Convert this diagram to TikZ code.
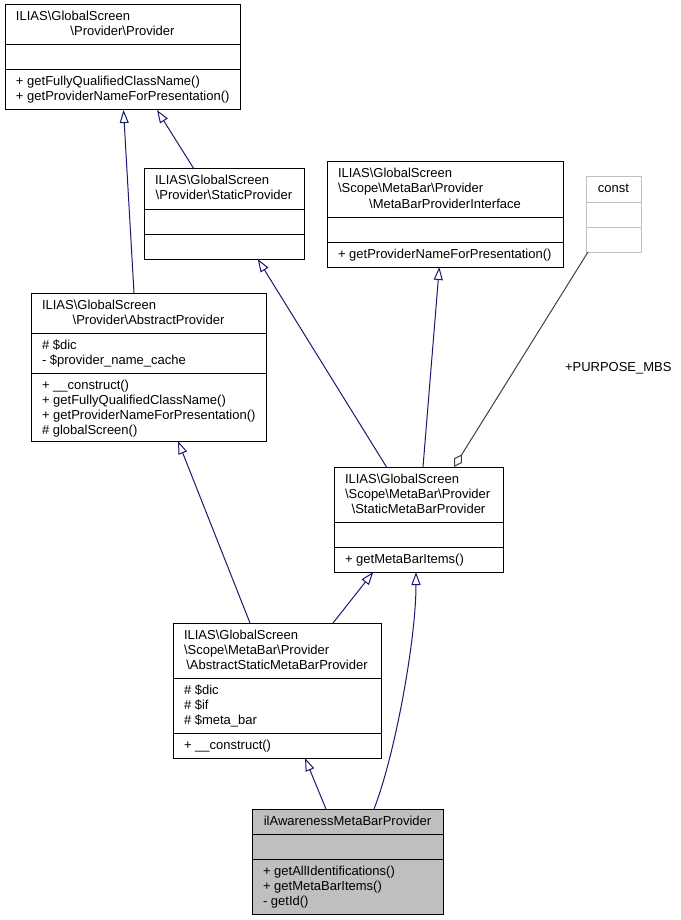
\documentclass[tikz,border=0pt]{standalone}
\usepackage{fontspec}
\setmainfont{Liberation Sans}
\usetikzlibrary{arrows.meta}
\definecolor{navy}{RGB}{25,25,112}
\definecolor{aggc}{RGB}{64,64,64}
\definecolor{hl}{RGB}{191,191,191}
\definecolor{constc}{RGB}{191,191,191}
\newcommand{\fs}{\fontsize{13pt}{15pt}\selectfont}
\newcommand{\bs}{\textbackslash}
\begin{document}
\begin{tikzpicture}[x=1pt,y=-1pt,
  cls/.style={draw=black, line width=1pt, fill=white, inner sep=0pt, outer sep=0pt},
  hlcls/.style={cls, fill=hl},
  gcls/.style={cls, draw=constc},
  div/.style={draw=black, line width=1pt},
  gdiv/.style={draw=constc, line width=1pt},
  lt/.style={anchor=base west, inner sep=0pt, outer sep=0pt, font=\fs},
  ct/.style={anchor=base, inner sep=0pt, outer sep=0pt, font=\fs},
  inh/.style={draw=navy, line width=1pt, -{Triangle[open, length=13pt, width=9pt]}},
  agg/.style={draw=aggc, line width=1pt, {Diamond[open, length=15pt, width=9pt]}-}]
\useasboundingbox (0,0) rectangle (680,920);
% boxes
\node[cls, minimum width=235pt, minimum height=105pt] (A) at (122.5,57.5) {};
\node[cls, minimum width=160pt, minimum height=90pt] (B) at (224,214) {};
\node[cls, minimum width=236pt, minimum height=105pt] (C) at (445,214.5) {};
\node[gcls, minimum width=55pt, minimum height=75pt] (K) at (613.5,214.5) {};
\node[cls, minimum width=235pt, minimum height=148pt] (D) at (148.5,367) {};
\node[cls, minimum width=169pt, minimum height=105pt] (E) at (418.5,519.5) {};
\node[cls, minimum width=208pt, minimum height=135pt] (F) at (277,690.5) {};
\node[hlcls, minimum width=191pt, minimum height=105pt] (G) at (347.5,861.5) {};
% dividers
\draw[div] (5,45) -- (240,45); \draw[div] (5,70) -- (240,70);
\draw[div] (144,209) -- (304,209); \draw[div] (144,234) -- (304,234);
\draw[div] (327,217) -- (563,217); \draw[div] (327,242) -- (563,242);
\draw[gdiv] (586,202) -- (641,202); \draw[gdiv] (586,227) -- (641,227);
\draw[div] (31,333) -- (266,333); \draw[div] (31,373) -- (266,373);
\draw[div] (334,522) -- (503,522); \draw[div] (334,547) -- (503,547);
\draw[div] (173,678) -- (381,678); \draw[div] (173,733) -- (381,733);
\draw[div] (252,834) -- (443,834); \draw[div] (252,859) -- (443,859);
% texts A
\node[lt] (A1) at (16,21) {ILIAS\bs GlobalScreen};
\node[ct] (A2) at (122.5,36) {\bs Provider\bs Provider};
\node[lt] (A3) at (16,86) {+ getFullyQualifiedClassName()};
\node[lt] (A4) at (16,101) {+ getProviderNameForPresentation()};
% B
\node[lt] (B1) at (155,185) {ILIAS\bs GlobalScreen};
\node[ct] (B2) at (224,200) {\bs Provider\bs StaticProvider};
% C
\node[lt] (C1) at (338,178) {ILIAS\bs GlobalScreen};
\node[lt] (C2) at (338,193) {\bs Scope\bs MetaBar\bs Provider};
\node[ct] (C3) at (445,208) {\bs MetaBarProviderInterface};
\node[lt] (C4) at (338,258) {+ getProviderNameForPresentation()};
% const
\node[ct] (K1) at (613.5,193) {const};
% D
\node[lt] (D1) at (42,309) {ILIAS\bs GlobalScreen};
\node[ct] (D2) at (148.5,324) {\bs Provider\bs AbstractProvider};
\node[lt] (D3) at (42,349) {\# \$dic};
\node[lt] (D4) at (42,364) {- \$provider\_name\_cache};
\node[lt] (D5) at (42,389) {+ \_\_construct()};
\node[lt] (D6) at (42,404) {+ getFullyQualifiedClassName()};
\node[lt] (D7) at (42,419) {+ getProviderNameForPresentation()};
\node[lt] (D8) at (42,434) {\# globalScreen()};
% E
\node[lt] (E1) at (345,483) {ILIAS\bs GlobalScreen};
\node[lt] (E2) at (345,498) {\bs Scope\bs MetaBar\bs Provider};
\node[ct] (E3) at (418.5,513) {\bs StaticMetaBarProvider};
\node[lt] (E4) at (345,563) {+ getMetaBarItems()};
% F
\node[lt] (F1) at (184,639) {ILIAS\bs GlobalScreen};
\node[lt] (F2) at (184,654) {\bs Scope\bs MetaBar\bs Provider};
\node[ct] (F3) at (277,669) {\bs AbstractStaticMetaBarProvider};
\node[lt] (F4) at (184,694) {\# \$dic};
\node[lt] (F5) at (184,709) {\# \$if};
\node[lt] (F6) at (184,724) {\# \$meta\_bar};
\node[lt] (F7) at (184,749) {+ \_\_construct()};
% G
\node[ct] (G1) at (347.5,825) {ilAwarenessMetaBarProvider};
\node[lt] (G2) at (263,875) {+ getAllIdentifications()};
\node[lt] (G3) at (263,890) {+ getMetaBarItems()};
\node[lt] (G4) at (263,905) {- getId()};
% label
\node[lt] (L) at (565,371) {+PURPOSE\_MBS};
% connectors
\draw[inh] ([xshift=-14.5pt]D.north) -- ([xshift=1pt]A.south);
\draw[inh] ([xshift=-30pt]B.north) -- ([xshift=34.5pt]A.south);
\draw[inh] ([xshift=-32pt]E.north) -- ([xshift=33.7pt]B.south);
\draw[inh] ([xshift=4.5pt]E.north) -- ([xshift=-5.7pt]C.south);
\draw[agg] ([xshift=35.5pt]E.north) -- ([xshift=-25.5pt]K.south);
\draw[inh] ([xshift=-27pt]F.north) -- ([xshift=29.5pt]D.south);
\draw[inh] ([xshift=56pt]F.north) -- ([xshift=-45.2pt]E.south);
\draw[inh] ([xshift=-21.5pt]G.north) -- ([xshift=28pt]F.south);
\draw[inh] ([xshift=26.5pt]G.north) .. controls (395,755) and (416,640) .. ([xshift=-2.5pt]E.south);
\end{tikzpicture}
\end{document}
